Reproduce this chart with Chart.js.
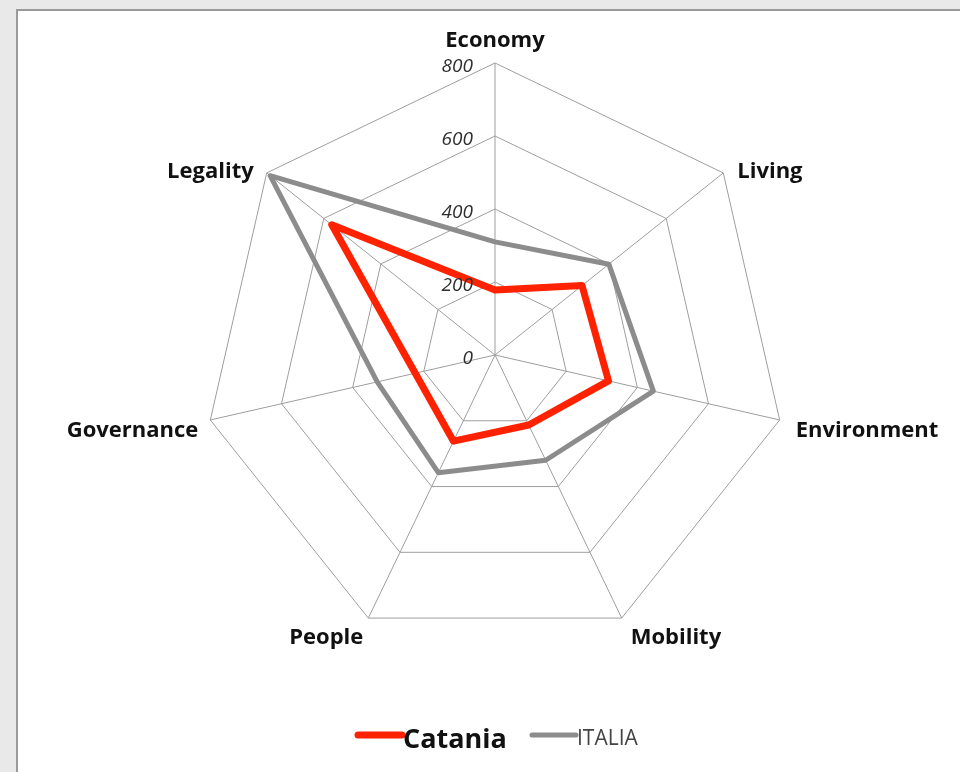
<!DOCTYPE html>
<html>
<head>
<meta charset="utf-8">
<script src="https://cdn.jsdelivr.net/npm/chart.js@4.4.1/dist/chart.umd.min.js"></script>
<style>
  html, body { margin: 0; padding: 0; }
  body { width: 960px; height: 772px; background: #e9e9e9; position: relative; overflow: hidden; }
  #panel { position: absolute; left: 16px; top: 9px; width: 960px; height: 780px; background: #ffffff;
           border-left: 2px solid #9a9a9a; border-top: 2px solid #9a9a9a; box-sizing: border-box; }
  #wrap { position: absolute; left: 0; top: 0; width: 960px; height: 772px; }
</style>
</head>
<body>
<div id="panel"></div>
<div id="wrap"><canvas id="c" width="960" height="772"></canvas></div>
<script>
const categories = ["Economy", "Living", "Environment", "Mobility", "People", "Governance", "Legality"];
const cataniaValues = [178, 305, 319, 213, 262, 224, 572];
const italiaValues = [310, 399, 445, 320, 358, 331, 788];
const tickValues = [0, 200, 400, 600, 800];
const seriesNames = ["Catania", "ITALIA"];

const RED = "#ff2200";
const GRAY = "#8c8c8c";

// label placement relative to the outer vertex of each axis (style only)
const labelAlign = ["center", "left", "left", "left", "right", "right", "right"];
const labelDx = [0, 14, 16, 9, -5, -12, -13];
const labelDy = [-16, 5, 17, 26, 26, 17, 5];

const overlay = {
  id: "overlay",
  afterDraw(chart) {
    const ctx = chart.ctx;
    const r = chart.scales.r;
    const max = tickValues[tickValues.length - 1];
    ctx.save();
    // tick labels
    ctx.font = "italic 19px 'Open Sans'";
    ctx.fillStyle = "#2e2e2e";
    ctx.textAlign = "right";
    ctx.textBaseline = "middle";
    tickValues.forEach(v => {
      const d = r.getDistanceFromCenterForValue(v);
      ctx.fillText(String(v), r.xCenter - 22, r.yCenter - d + 4);
    });
    // point labels
    ctx.font = "bold 22px 'Open Sans'";
    ctx.fillStyle = "#111111";
    ctx.textBaseline = "alphabetic";
    categories.forEach((lab, i) => {
      const p = r.getPointPositionForValue(i, max);
      ctx.textAlign = labelAlign[i];
      ctx.fillText(lab, p.x + labelDx[i], p.y + labelDy[i]);
    });
    // legend
    ctx.lineCap = "round";
    ctx.strokeStyle = RED; ctx.lineWidth = 7;
    ctx.beginPath(); ctx.moveTo(358, 735); ctx.lineTo(402, 735); ctx.stroke();
    ctx.font = "bold 27px 'Open Sans'";
    ctx.fillStyle = "#111111"; ctx.textAlign = "left";
    ctx.fillText(seriesNames[0], 403, 748);
    ctx.strokeStyle = GRAY; ctx.lineWidth = 5;
    ctx.beginPath(); ctx.moveTo(532, 735); ctx.lineTo(576, 735); ctx.stroke();
    ctx.font = "21px 'Open Sans'";
    ctx.fillStyle = "#444444";
    ctx.fillText(seriesNames[1], 577, 745);
    ctx.restore();
  }
};

new Chart(document.getElementById("c"), {
  type: "radar",
  data: {
    labels: categories,
    datasets: [
      { label: seriesNames[0], data: cataniaValues, borderColor: RED, borderWidth: 7,
        backgroundColor: "rgba(0,0,0,0)", fill: false, pointRadius: 0, borderJoinStyle: "round", order: 0 },
      { label: seriesNames[1], data: italiaValues, borderColor: GRAY, borderWidth: 5,
        backgroundColor: "rgba(0,0,0,0)", fill: false, pointRadius: 0, borderJoinStyle: "round", order: 1 }
    ]
  },
  options: {
    responsive: false,
    animation: false,
    layout: { padding: { left: 203, right: 173, top: 63, bottom: 125 } },
    plugins: { legend: { display: false }, tooltip: { enabled: false } },
    elements: { line: { tension: 0 } },
    scales: {
      r: {
        min: 0, max: 800,
        ticks: { stepSize: 200, display: false },
        grid: { color: "#9e9e9e", lineWidth: 1 },
        angleLines: { color: "#9e9e9e", lineWidth: 1 },
        pointLabels: { display: false }
      }
    }
  },
  plugins: [overlay]
});
</script>
</body>
</html>
